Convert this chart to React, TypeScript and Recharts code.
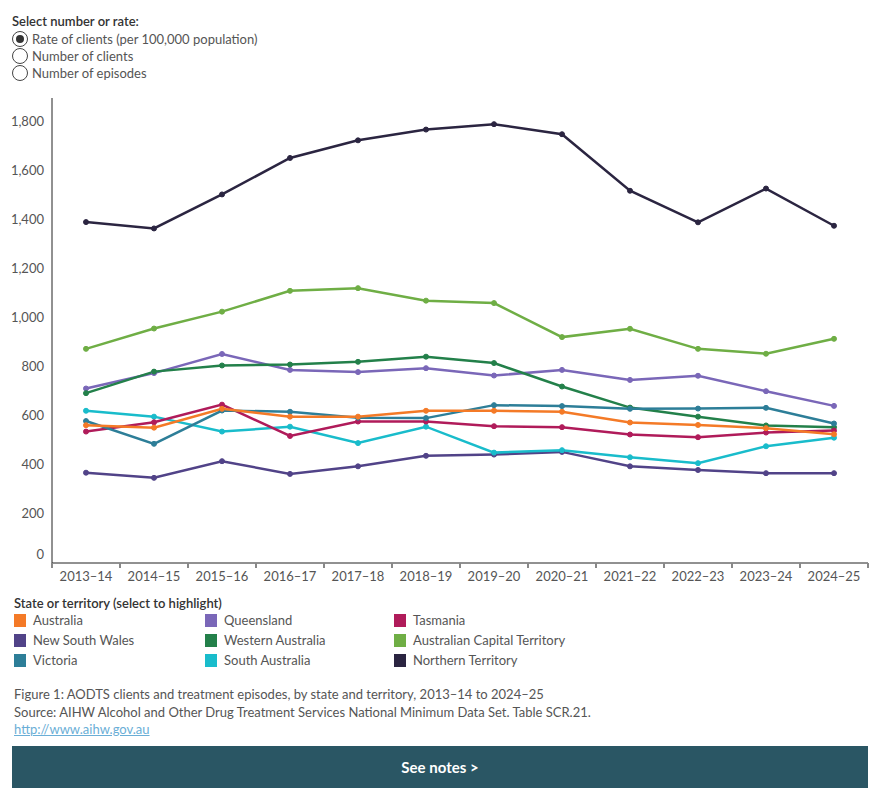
import React from "react";
import { LineChart, Line, XAxis, YAxis } from "recharts";

const years = [
  "2013–14", "2014–15", "2015–16", "2016–17", "2017–18", "2018–19",
  "2019–20", "2020–21", "2021–22", "2022–23", "2023–24", "2024–25",
];

const australia = [563, 553, 630, 598, 598, 622, 622, 618, 574, 564, 551, 526];
const nsw = [369, 348, 416, 364, 395, 438, 443, 454, 395, 380, 367, 367];
const victoria = [580, 487, 623, 618, 594, 592, 645, 641, 630, 631, 634, 570];
const queensland = [713, 776, 854, 789, 780, 796, 766, 789, 748, 765, 702, 642];
const westernAustralia = [694, 782, 807, 811, 822, 843, 817, 721, 635, 598, 562, 555];
const southAustralia = [622, 598, 537, 557, 490, 557, 451, 461, 432, 408, 477, 512];
const tasmania = [537, 575, 647, 519, 578, 578, 559, 555, 525, 514, 533, 541];
const act = [875, 958, 1027, 1112, 1123, 1072, 1062, 923, 957, 875, 855, 916];
const nt = [1393, 1367, 1506, 1655, 1727, 1771, 1793, 1752, 1521, 1392, 1530, 1378];

const yTicks = [0, 200, 400, 600, 800, 1000, 1200, 1400, 1600, 1800];

const series = [
  { key: "nt", name: "Northern Territory", color: "#2b2541", values: nt },
  { key: "act", name: "Australian Capital Territory", color: "#6fae45", values: act },
  { key: "qld", name: "Queensland", color: "#7a67b8", values: queensland },
  { key: "wa", name: "Western Australia", color: "#23804a", values: westernAustralia },
  { key: "nsw", name: "New South Wales", color: "#514388", values: nsw },
  { key: "sa", name: "South Australia", color: "#19bccb", values: southAustralia },
  { key: "tas", name: "Tasmania", color: "#b01b5a", values: tasmania },
  { key: "vic", name: "Victoria", color: "#2d7e98", values: victoria },
  { key: "aus", name: "Australia", color: "#f47a27", values: australia },
];

const legendOrder = [
  ["aus", "qld", "tas"],
  ["nsw", "wa", "act"],
  ["vic", "sa", "nt"],
];

const data = years.map((year, i) => {
  const row: Record<string, string | number> = { year };
  series.forEach((s) => (row[s.key] = s.values[i]));
  return row;
});

const font = "Lato, 'Noto Sans', sans-serif";
const textColor = "#555";

const YTick = (props: any) => {
  const { x, y, payload } = props;
  const shift = payload.value === 0 ? -8 : 0;
  return (
    <text x={x} y={y + shift} dy={4} textAnchor="end" fontSize={13} fill={textColor} fontFamily={font}>
      {payload.value.toLocaleString("en-US")}
    </text>
  );
};

const XTick = (props: any) => {
  const { x, y, payload, index } = props;
  const half = 34;
  return (
    <g>
      <line x1={x - half} x2={x - half} y1={y - 8} y2={y - 3} stroke="#888" strokeWidth={2} />
      {index === years.length - 1 && (
        <line x1={x + half} x2={x + half} y1={y - 8} y2={y - 3} stroke="#888" strokeWidth={2} />
      )}
      <text x={x} y={y} dy={10} textAnchor="middle" fontSize={13} fill={textColor} fontFamily={font}>
        {payload.value}
      </text>
    </g>
  );
};

const Radio = ({ checked, label, top }: { checked: boolean; label: string; top: number }) => (
  <div style={{ position: "absolute", left: 4, top, display: "flex", alignItems: "center", height: 17 }}>
    <div
      style={{
        width: 14,
        height: 14,
        borderRadius: "50%",
        border: "1px solid #444",
        display: "flex",
        alignItems: "center",
        justifyContent: "center",
        background: "#fff",
      }}
    >
      {checked && <div style={{ width: 8, height: 8, borderRadius: "50%", background: "#333" }} />}
    </div>
    <span style={{ marginLeft: 4, fontSize: 13, color: textColor }}>{label}</span>
  </div>
);

export default function App() {
  const legendCols = [6, 197, 386];
  return (
    <div style={{ position: "relative", width: 864, height: 792, fontFamily: font }}>
      <div style={{ position: "absolute", left: 4, top: 5, fontSize: 13, fontWeight: 600, color: "#333" }}>
        Select number or rate:
      </div>
      <Radio checked top={22} label="Rate of clients (per 100,000 population)" />
      <Radio checked={false} top={39} label="Number of clients" />
      <Radio checked={false} top={56} label="Number of episodes" />

      <div style={{ position: "absolute", left: 0, top: 80 }}>
        <LineChart width={864} height={500} data={data} margin={{ top: 10, right: 4, bottom: 0, left: 0 }}>
          <XAxis
            dataKey="year"
            padding={{ left: 34, right: 34 }}
            height={25}
            axisLine={{ stroke: "#222" }}
            tickLine={false}
            tick={<XTick />}
            interval={0}
          />
          <YAxis
            width={44}
            domain={[0, 1900]}
            ticks={yTicks}
            axisLine={{ stroke: "#222" }}
            tickLine={false}
            tick={<YTick />}
          />
          {series.map((s) => (
            <Line
              key={s.key}
              dataKey={s.key}
              name={s.name}
              stroke={s.color}
              strokeWidth={2.5}
              dot={{ r: 2.5, fill: s.color, stroke: s.color, strokeWidth: 1 }}
              isAnimationActive={false}
            />
          ))}
        </LineChart>
      </div>

      <div style={{ position: "absolute", left: 6, top: 587, fontSize: 13, fontWeight: 600, color: "#333" }}>
        State or territory (select to highlight)
      </div>
      {legendOrder.map((row, r) =>
        row.map((key, c) => {
          const s = series.find((x) => x.key === key)!;
          return (
            <div
              key={key}
              style={{
                position: "absolute",
                left: legendCols[c],
                top: 605 + r * 20,
                display: "flex",
                alignItems: "center",
                height: 14,
              }}
            >
              <div style={{ width: 12, height: 13, background: s.color }} />
              <span style={{ marginLeft: 7, fontSize: 13, color: textColor }}>{s.name}</span>
            </div>
          );
        })
      )}

      <div style={{ position: "absolute", left: 6, top: 677, fontSize: 13, color: textColor, lineHeight: "18px" }}>
        <div>Figure 1: AODTS clients and treatment episodes, by state and territory, 2013–14 to 2024–25</div>
        <div>Source: AIHW Alcohol and Other Drug Treatment Services National Minimum Data Set. Table SCR.21.</div>
        <div style={{ color: "#6aaed6", textDecoration: "underline", lineHeight: "16px" }}>http://www.aihw.gov.au</div>
      </div>

      <div
        style={{
          position: "absolute",
          left: 4,
          top: 738,
          width: 856,
          height: 42,
          background: "#2a5664",
          color: "#fff",
          fontSize: 15,
          fontWeight: 700,
          display: "flex",
          alignItems: "center",
          justifyContent: "center",
        }}
      >
        See notes &gt;
      </div>
    </div>
  );
}
